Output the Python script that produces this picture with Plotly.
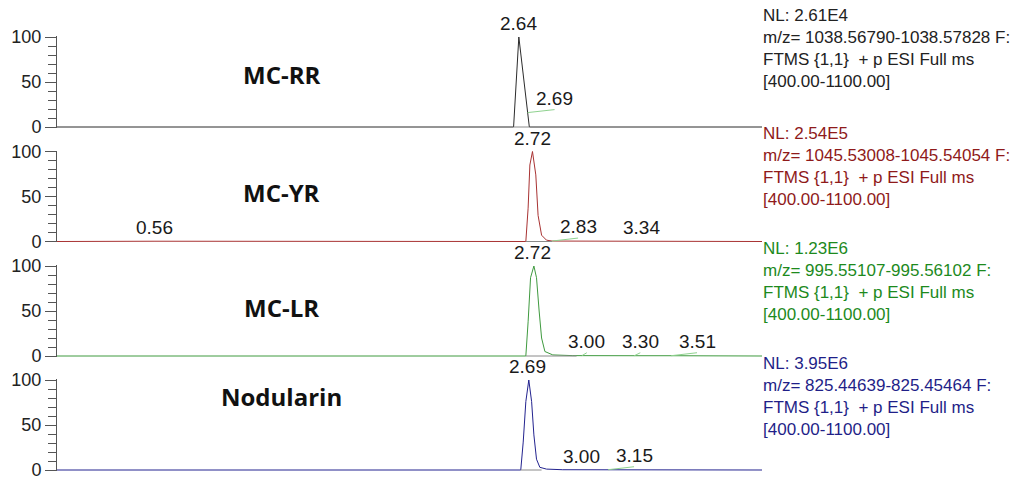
import plotly.graph_objects as go

# ---------------- data ----------------
names = ["MC-RR", "MC-YR", "MC-LR", "Nodularin"]
nl_values = ["2.61E4", "2.54E5", "1.23E6", "3.95E6"]
mz_ranges = ["1038.56790-1038.57828", "1045.53008-1045.54054",
             "995.55107-995.56102", "825.44639-825.45464"]
scan_filter = "FTMS {1,1}  + p ESI Full ms"
mass_range = "[400.00-1100.00]"

# retention time (min) / relative abundance (%)
t_rr = [0.0, 2.61, 2.64, 2.69, 2.70, 4.03]
i_rr = [0, 0, 100, 16, 0, 0]

t_yr = [0.0, 0.56, 2.68, 2.693, 2.703, 2.718, 2.737, 2.75, 2.77, 2.798, 2.83, 3.34, 4.03]
i_yr = [0, 0.3, 0, 37, 85, 100, 74, 29, 7, 1.5, 0.5, 0.3, 0]

t_lr = [0.0, 2.68, 2.693, 2.707, 2.726, 2.741, 2.756, 2.77, 2.789, 2.834, 2.949, 3.00, 3.30, 3.51, 4.03]
i_lr = [0, 0, 38, 87, 100, 87, 50, 20, 5, 1.2, 0.4, 0.3, 0.3, 0.3, 0]

t_nod = [0.0, 2.651, 2.665, 2.68, 2.697, 2.713, 2.726, 2.741, 2.76, 2.798, 2.891, 3.00, 3.15, 4.03]
i_nod = [0, 0, 31, 76, 100, 76, 39, 12, 3, 1, 0.3, 0.3, 0.3, 0]

# labelled peaks (RT, abundance at label point)
lab_t_rr = [2.64, 2.69]
lab_i_rr = [100, 16]
lab_t_yr = [2.72, 0.56, 2.83, 3.34]
lab_i_yr = [100, 0.3, 0.5, 0.3]
lab_t_lr = [2.72, 3.00, 3.30, 3.51]
lab_i_lr = [100, 0.3, 0.3, 0.3]
lab_t_nod = [2.69, 3.00, 3.15]
lab_i_nod = [100, 0.3, 0.3]

# integration baselines (start, end RT)
base_rr = [2.61, 2.70]
base_yr = [2.68, 2.83]
base_lr = [2.68, 2.97]
base_nod = [2.65, 2.77]

series_t = [t_rr, t_yr, t_lr, t_nod]
series_i = [i_rr, i_yr, i_lr, i_nod]
labels_t = [lab_t_rr, lab_t_yr, lab_t_lr, lab_t_nod]
labels_i = [lab_i_rr, lab_i_yr, lab_i_lr, lab_i_nod]
baselines = [base_rr, base_yr, base_lr, base_nod]

# ---------------- styles / layout ----------------
W, H = 1029, 481
line_colors = ["#2b2b2b", "#a83232", "#3f9a3f", "#23238f"]
text_colors = ["#222222", "#8f1a1a", "#1d8a1d", "#1f1f88"]
leader_color = "#8fd28f"
# label offsets in pixels: (dx, dy, leader)
label_offsets = [
    [(0, 0, False), (27, -3, True)],
    [(0, 0, False), (0, 0, False), (26, -3, True), (0, 0, False)],
    [(0, 0, False), (5, -3, True), (6, -3, True), (26, -3, True)],
    [(0, 0, False), (0, 0, False), (26, -3, True)],
]
name_px_y = [75, 192, 307, 396]
name_x = 1.286
info_px_top = [5, 123, 238, 353]

M_L, M_R, M_T, M_B = 57, 267, 36, 10
plot_h = H - M_T - M_B
zero_px = [127, 241.5, 356, 470]
yr = [-1, 101]
px_per_unit = 0.9
dom_h = (yr[1] - yr[0]) * px_per_unit
plot_bottom = H - M_B


def paper_y(px):
    return (plot_bottom - px) / plot_h


fig = go.Figure()
layout = dict(
    width=W, height=H,
    margin=dict(l=M_L, r=M_R, t=M_T, b=M_B, autoexpand=False),
    paper_bgcolor="white", plot_bgcolor="white",
    showlegend=False,
    font=dict(family="Liberation Sans, Arial, sans-serif", size=18, color="#222222"),
)
annotations = []

for k in range(4):
    sfx = "" if k == 0 else str(k + 1)
    xa, ya = "x" + sfx, "y" + sfx
    bot_px = zero_px[k] + (0 - yr[0]) * px_per_unit
    top_px = bot_px - dom_h
    layout["xaxis" + sfx] = dict(range=[0, 4.03], visible=False, domain=[0, 1],
                                 anchor=ya, fixedrange=True)
    layout["yaxis" + sfx] = dict(
        range=yr, domain=[paper_y(bot_px), paper_y(top_px)], anchor=xa,
        tickmode="linear", tick0=0, dtick=50, ticks="outside", ticklen=11,
        tickcolor="#555555", tickwidth=1, showline=True, linecolor="#555555",
        linewidth=1, showgrid=False, zeroline=False, fixedrange=True,
        ticklabeloverflow="allow",
        tickfont=dict(size=18, color="#222222"),
        minor=dict(dtick=10, ticks="outside", ticklen=8, tickcolor="#555555",
                   tickwidth=1, showgrid=False),
    )
    fig.add_trace(go.Scatter(x=series_t[k], y=series_i[k], mode="lines",
                             line=dict(color=line_colors[k], width=1),
                             xaxis=xa, yaxis=ya, hoverinfo="skip"))
    fig.add_trace(go.Scatter(x=baselines[k], y=[0, 0], mode="lines",
                             line=dict(color="#8a8a8a", width=1),
                             xaxis=xa, yaxis=ya, hoverinfo="skip"))
    # peak labels
    for j, (lt, li) in enumerate(zip(labels_t[k], labels_i[k])):
        dx, dy, leader = label_offsets[k][j]
        txt = f"{lt:.2f}"
        if leader:
            annotations.append(dict(
                x=lt, y=li, xref=xa, yref=ya, text=txt, showarrow=True,
                ax=dx, ay=dy, axref="pixel", ayref="pixel",
                xanchor="center", yanchor="bottom", arrowhead=0, arrowwidth=1,
                arrowcolor=leader_color, standoff=0, startstandoff=0,
                borderpad=0, font=dict(size=19, color="#1a1a1a")))
        else:
            annotations.append(dict(
                x=lt, y=li, xref=xa, yref=ya, text=txt, showarrow=False,
                xanchor="center", yanchor="bottom", yshift=2, borderpad=0,
                font=dict(size=19, color="#1a1a1a")))
    # compound name
    annotations.append(dict(
        x=name_x, y=paper_y(name_px_y[k]), xref=xa, yref="paper",
        text="<b>" + names[k] + "</b>", showarrow=False,
        xanchor="center", yanchor="middle",
        font=dict(family="Open Sans, Noto Sans, sans-serif", size=24, color="#111111")))
    # info block
    info = "<br>".join([f"NL: {nl_values[k]}", f"m/z= {mz_ranges[k]} F:",
                        scan_filter, mass_range])
    annotations.append(dict(
        x=1, y=paper_y(info_px_top[k]), xref="paper", yref="paper",
        text=info, showarrow=False, xanchor="left", yanchor="top", align="left",
        borderpad=0, font=dict(size=17, color=text_colors[k])))

layout["annotations"] = annotations
fig.update_layout(**layout)
fig.write_html("out.html",
               config={"displayModeBar": False, "staticPlot": True},
               post_script="document.body.style.margin='0';"
                           "document.body.style.overflow='hidden';")
